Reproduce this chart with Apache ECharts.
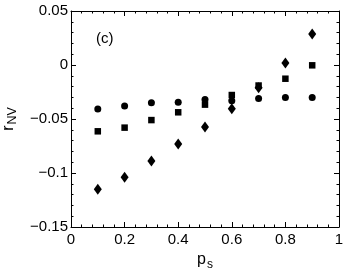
<!DOCTYPE html>
<html>
<head>
<meta charset="utf-8">
<script src="https://cdn.jsdelivr.net/npm/echarts@6/dist/echarts.min.js"></script>
<style>html,body{margin:0;padding:0;background:#fff}#c{width:345px;height:270px}</style>
</head>
<body>
<div id="c"></div>
<script>
var ps = [0.1, 0.2, 0.3, 0.4, 0.5, 0.6, 0.7, 0.8, 0.9];
var circles = [-0.0407, -0.038, -0.035, -0.0346, -0.032, -0.033, -0.031, -0.030, -0.030];
var squares = [-0.0614, -0.058, -0.051, -0.0438, -0.0367, -0.0278, -0.019, -0.0127, -0.0003];
var diamonds = [-0.115, -0.104, -0.0889, -0.0731, -0.0574, -0.0404, -0.021, 0.0019, 0.0287];
var panelLabel = '(c)';

function pair(ys){ return ps.map(function(x,i){ return [x, ys[i]]; }); }
function fmt(v){
  var r = Math.round(v*100)/100;
  if (Math.abs(r) < 1e-9) return '0';
  var s = String(Math.abs(r));
  return (r < 0 ? '\u2212' : '') + s;
}
var font = 'Liberation Sans, Arial, Helvetica, sans-serif';
var axisCommon = {
  axisLine: {show: true, onZero: false, lineStyle: {color: '#000', width: 1}},
  axisTick: {show: true, inside: true, length: 5, lineStyle: {color: '#000', width: 1}},
  minorTick: {show: true, splitNumber: 5, length: 2.5, lineStyle: {color: '#000', width: 1}},
  splitLine: {show: false}
};
function ax(extra){ return Object.assign({}, JSON.parse(JSON.stringify(axisCommon)), extra); }

var chart = echarts.init(document.getElementById('c'), null, {renderer: 'canvas'});
chart.setOption({
  animation: false,
  grid: {left: 71, right: 6, top: 11, bottom: 43, containLabel: false, outerBoundsMode: 'none'},
  xAxis: [
    ax({type: 'value', min: 0, max: 1, interval: 0.2, position: 'bottom',
      axisLabel: {color: '#000', fontSize: 15, fontFamily: font, margin: 5, formatter: fmt},
      name: '{a|p}{b|s}', nameLocation: 'middle', nameGap: 21,
      nameTextStyle: {rich: {
        a: {fontSize: 16, fontFamily: font, color: '#000'},
        b: {fontSize: 12, fontFamily: font, color: '#000', padding: [9, 0, 0, 1]}
      }}}),
    ax({type: 'value', min: 0, max: 1, interval: 0.2, position: 'top', axisLabel: {show: false}})
  ],
  yAxis: [
    ax({type: 'value', min: -0.15, max: 0.05, interval: 0.05, position: 'left',
      axisLabel: {color: '#000', fontSize: 15, fontFamily: font, margin: 3, formatter: fmt},
      name: '{a|r}{b|NV}', nameLocation: 'middle', nameGap: 48, nameRotate: 90,
      nameTextStyle: {rich: {
        a: {fontSize: 16, fontFamily: font, color: '#000'},
        b: {fontSize: 12.5, fontFamily: font, color: '#000', padding: [9, 0, 0, 1]}
      }}}),
    ax({type: 'value', min: -0.15, max: 0.05, interval: 0.05, position: 'right', axisLabel: {show: false}})
  ],
  graphic: [{type: 'text', left: 96, top: 31, style: {text: panelLabel, font: '15px ' + font, fill: '#000'}}],
  series: [
    {type: 'scatter', data: pair(circles), symbol: 'circle', symbolSize: 7, itemStyle: {color: '#000', opacity: 1}},
    {type: 'scatter', data: pair(squares), symbol: 'rect', symbolSize: 6.5, itemStyle: {color: '#000', opacity: 1}},
    {type: 'scatter', data: pair(diamonds), symbol: 'diamond', symbolSize: [8, 11], itemStyle: {color: '#000', opacity: 1}}
  ]
});
</script>
</body>
</html>
